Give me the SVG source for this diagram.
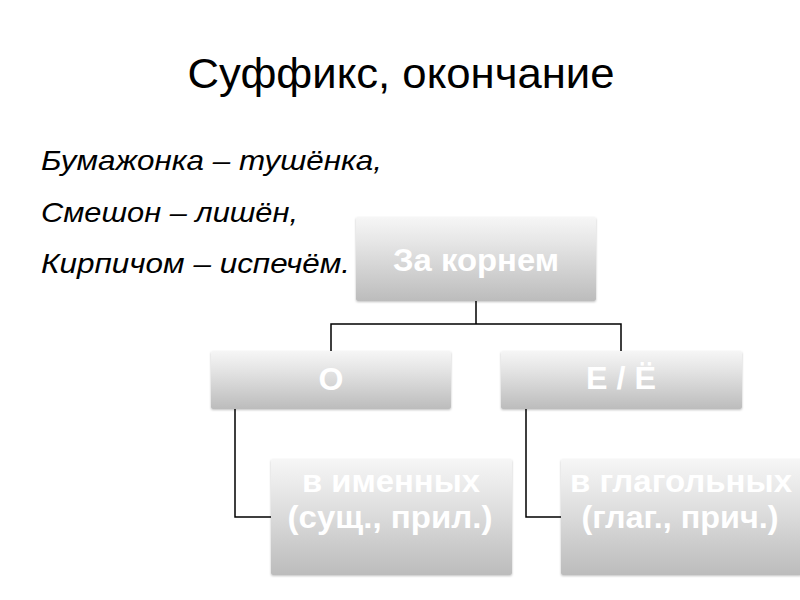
<svg xmlns="http://www.w3.org/2000/svg" width="800" height="600" viewBox="0 0 800 600">
<defs>
<linearGradient id="g" x1="0" y1="0" x2="0" y2="1">
<stop offset="0" stop-color="#f6f6f6"/>
<stop offset="0.3" stop-color="#e6e6e6"/>
<stop offset="1" stop-color="#bcbcbc"/>
</linearGradient>
<filter id="sh" x="-5%" y="-5%" width="110%" height="115%">
<feDropShadow dx="0" dy="1" stdDeviation="1" flood-color="#000" flood-opacity="0.25"/>
</filter>
</defs>
<style>
.box{fill:url(#g);filter:url(#sh)}
.bt{font-family:"Liberation Sans",Arial,sans-serif;font-weight:bold;font-size:32px;fill:#fff;text-anchor:middle}
.ln{fill:none;stroke:#000;stroke-width:1.5}
.it{font-family:"Liberation Sans",Arial,sans-serif;font-style:italic;font-size:28px;fill:#000}
</style>
<rect width="800" height="600" fill="#fff"/>
<text x="401" y="88" font-family="'Liberation Sans',Arial,sans-serif" font-size="43" text-anchor="middle" fill="#000" textLength="427" lengthAdjust="spacingAndGlyphs">Суффикс, окончание</text>
<text class="it" x="41" y="170" textLength="341" lengthAdjust="spacingAndGlyphs">Бумажонка – тушёнка,</text>
<text class="it" x="41" y="222" textLength="257" lengthAdjust="spacingAndGlyphs">Смешон – лишён,</text>
<text class="it" x="41" y="273" textLength="309" lengthAdjust="spacingAndGlyphs">Кирпичом – испечём.</text>
<g id="connectors">
<path class="ln" d="M476,301 V324 M331,351 V324 H621 V351"/>
<path class="ln" d="M235,409 V517 H271"/>
<path class="ln" d="M526,409 V517 H561"/>
</g>
<g id="root"><rect class="box" x="356" y="217" width="240" height="84" rx="2"/><text class="bt" x="476" y="271" textLength="166" lengthAdjust="spacingAndGlyphs">За корнем</text></g>
<g id="o"><rect class="box" x="211" y="351" width="240" height="58" rx="2"/><text class="bt" x="331" y="390">О</text></g>
<g id="e"><rect class="box" x="501" y="351" width="241" height="58" rx="2"/><text class="bt" x="621" y="389" textLength="70" lengthAdjust="spacingAndGlyphs">Е / Ё</text></g>
<g id="nouns"><rect class="box" x="271" y="459" width="241" height="116" rx="2"/><text class="bt" x="391" y="492" textLength="178" lengthAdjust="spacingAndGlyphs">в именных</text><text class="bt" x="390" y="528" textLength="205" lengthAdjust="spacingAndGlyphs">(сущ., прил.)</text></g>
<g id="verbs"><rect class="box" x="561" y="459" width="241" height="116" rx="2"/><text class="bt" x="681" y="492" textLength="222" lengthAdjust="spacingAndGlyphs">в глагольных</text><text class="bt" x="680" y="528" textLength="197" lengthAdjust="spacingAndGlyphs">(глаг., прич.)</text></g>
</svg>
